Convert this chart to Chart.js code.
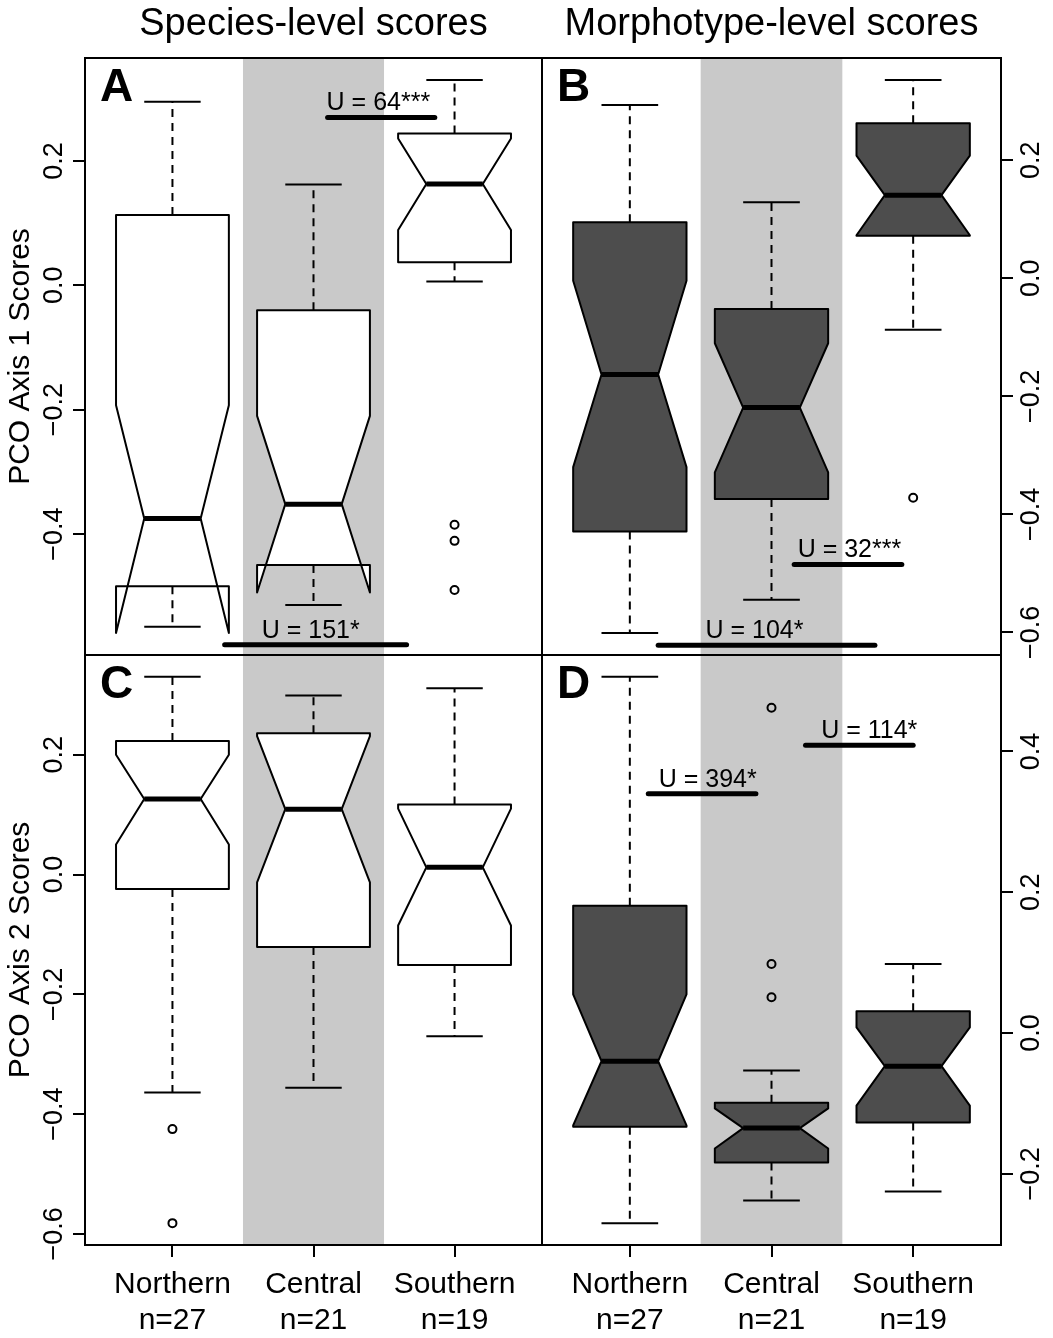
<!DOCTYPE html>
<html lang="en">
<head>
<meta charset="UTF-8">
<title>PCO scores by region</title>
<script src="https://cdn.jsdelivr.net/npm/chart.js@4"></script>
<style>
  body { margin: 0; background: #fff; }
  #figure { position: relative; width: 1053px; height: 1338px; background: #fff; }
  #figure canvas { position: absolute; }
</style>
</head>
<body>
<div id="figure">
  <canvas id="panelA" width="552" height="665" style="left:0;top:0;width:552px;height:665px"></canvas>
  <canvas id="panelB" width="521" height="665" style="left:532px;top:0;width:521px;height:665px"></canvas>
  <canvas id="panelC" width="552" height="693" style="left:0;top:645px;width:552px;height:693px"></canvas>
  <canvas id="panelD" width="521" height="693" style="left:532px;top:645px;width:521px;height:693px"></canvas>
</div>
<script>
const groups = ['Northern', 'Central', 'Southern'];
const groupN = [27, 21, 19];

// one row per group: [lower whisker, Q1, notch low, median, notch high, Q3, upper whisker]
const pc1Species = [
  [-0.549, -0.484, -0.559, -0.375, -0.193, 0.113, 0.295],
  [-0.514, -0.450, -0.494, -0.352, -0.210, -0.040, 0.162],
  [0.006, 0.037, 0.089, 0.163, 0.236, 0.244, 0.330]
];
const pc1SpeciesOut = [[], [], [-0.385, -0.411, -0.490]];

const pc1Morpho = [
  [-0.601, -0.429, -0.320, -0.163, -0.004, 0.095, 0.294],
  [-0.545, -0.374, -0.329, -0.219, -0.110, -0.052, 0.129],
  [-0.087, 0.072, 0.073, 0.141, 0.208, 0.263, 0.336]
];
const pc1MorphoOut = [[], [], [-0.372]];

const pc2Species = [
  [-0.364, -0.024, 0.050, 0.126, 0.200, 0.223, 0.330],
  [-0.356, -0.121, -0.013, 0.109, 0.231, 0.236, 0.299],
  [-0.270, -0.151, -0.085, 0.012, 0.110, 0.117, 0.311]
];
const pc2SpeciesOut = [[-0.425, -0.582], [], []];

const pc2Morpho = [
  [-0.270, -0.133, -0.131, -0.040, 0.055, 0.181, 0.506],
  [-0.238, -0.184, -0.164, -0.135, -0.107, -0.099, -0.053],
  [-0.225, -0.127, -0.103, -0.047, 0.008, 0.031, 0.098]
];
const pc2MorphoOut = [[], [0.462, 0.098, 0.051], []];

// axis ticks
const ticksA = [0.2, 0.0, -0.2, -0.4];
const ticksB = [0.2, 0.0, -0.2, -0.4, -0.6];
const ticksC = [0.2, 0.0, -0.2, -0.4, -0.6];
const ticksD = [0.4, 0.2, 0.0, -0.2];

// Mann-Whitney test bars
const testsA = ['U = 64***', 'U = 151*'];
const testFromA = [2.10, 1.37];
const testToA = [2.86, 2.66];
const testYA = [0.270, -0.578];
const testTextXA = [2.46, 1.98];

const testsB = ['U = 32***', 'U = 104*'];
const testFromB = [2.16, 1.20];
const testToB = [2.92, 2.73];
const testYB = [-0.485, -0.622];
const testTextXB = [2.55, 1.88];

const testsD = ['U = 394*', 'U = 114*'];
const testFromD = [1.13, 2.24];
const testToD = [1.89, 3.00];
const testYD = [0.340, 0.409];
const testTextXD = [1.55, 2.69];

Chart.defaults.font.family = "'Liberation Sans', Arial, Helvetica, sans-serif";
Chart.defaults.color = '#000';

// same as R boxplot: data range plus 4% each side
function yRange(stats, outliers) {
  const vals = stats.flat().concat(outliers.flat());
  const lo = Math.min(...vals), hi = Math.max(...vals);
  const pad = (hi - lo) * 0.04;
  return [lo - pad, hi + pad];
}

function tickText(v) {
  const s = Math.abs(v) < 1e-9 ? '0.0' : v.toFixed(1);
  return s.replace('-', '\u2212');
}

function boxPlugin(cfg) {
  return {
    id: 'notchedBoxes',
    beforeDatasetsDraw(chart) {
      const { ctx, chartArea: a, scales: { x, y } } = chart;
      ctx.save();
      // shaded Central column
      const s0 = x.getPixelForValue(1.5), s1 = x.getPixelForValue(2.5);
      ctx.fillStyle = '#c9c9c9';
      ctx.fillRect(s0, a.top, s1 - s0, a.bottom - a.top);

      const hw = 0.4;
      cfg.stats.forEach((s, i) => {
        const c = i + 1;
        const [wLo, q1, nLo, med, nHi, q3, wHi] = s;
        const px = d => x.getPixelForValue(c + d);
        const py = v => y.getPixelForValue(v);

        // notched box (R bxp polygon order)
        const xs = [-1, 1, 1, 0.5, 1, 1, -1, -1, -0.5, -1];
        const ys = [q1, q1, nLo, med, nHi, q3, q3, nHi, med, nLo];
        ctx.beginPath();
        xs.forEach((k, j) => {
          const X = px(k * hw), Y = py(ys[j]);
          if (j === 0) ctx.moveTo(X, Y); else ctx.lineTo(X, Y);
        });
        ctx.closePath();
        ctx.fillStyle = cfg.fill;
        ctx.fill();
        ctx.strokeStyle = '#000';
        ctx.lineWidth = 2;
        ctx.lineJoin = 'round';
        ctx.stroke();

        // whiskers
        ctx.setLineDash([8, 6]);
        ctx.beginPath();
        ctx.moveTo(px(0), py(q1)); ctx.lineTo(px(0), py(wLo));
        ctx.moveTo(px(0), py(q3)); ctx.lineTo(px(0), py(wHi));
        ctx.stroke();
        ctx.setLineDash([]);

        // staples
        ctx.beginPath();
        ctx.moveTo(px(-hw / 2), py(wLo)); ctx.lineTo(px(hw / 2), py(wLo));
        ctx.moveTo(px(-hw / 2), py(wHi)); ctx.lineTo(px(hw / 2), py(wHi));
        ctx.stroke();

        // median
        ctx.lineWidth = 5;
        ctx.lineCap = 'butt';
        ctx.beginPath();
        ctx.moveTo(px(-hw / 2), py(med)); ctx.lineTo(px(hw / 2), py(med));
        ctx.stroke();
      });
      ctx.restore();
    },
    afterDatasetsDraw(chart) {
      const { ctx, scales: { x, y } } = chart;
      ctx.save();
      ctx.fillStyle = '#000';
      ctx.font = "25px 'Liberation Sans', Arial, sans-serif";
      ctx.textAlign = 'center';
      ctx.textBaseline = 'alphabetic';
      cfg.tests.forEach((t, i) => {
        ctx.fillText(t, x.getPixelForValue(cfg.testTextX[i]), y.getPixelForValue(cfg.testY[i]) - 7);
      });
      ctx.restore();
    },
    afterDraw(chart) {
      const { ctx, chartArea: a } = chart;
      ctx.save();
      ctx.strokeStyle = '#000';
      ctx.lineWidth = 2;
      ctx.strokeRect(a.left, a.top, a.right - a.left, a.bottom - a.top);
      ctx.fillStyle = '#000';
      ctx.font = "bold 46px 'Liberation Sans', Arial, sans-serif";
      ctx.textAlign = 'left';
      ctx.textBaseline = 'alphabetic';
      ctx.fillText(cfg.letter, a.left + 15, a.top + 43);
      ctx.restore();
    }
  };
}

function drawPanel(canvasId, cfg) {
  const [yMin, yMax] = yRange(cfg.stats, cfg.outliers);
  const onLeft = cfg.side === 'left';

  const outPoints = [];
  cfg.outliers.forEach((vals, i) => vals.forEach(v => outPoints.push({ x: i + 1, y: v })));

  const testLines = cfg.tests.map((t, i) => ({
    data: [{ x: cfg.testFrom[i], y: cfg.testY[i] }, { x: cfg.testTo[i], y: cfg.testY[i] }],
    showLine: true,
    borderColor: '#000',
    borderWidth: 5,
    borderCapStyle: 'round',
    pointRadius: 0
  }));

  const tickGrid = { drawOnChartArea: false, drawTicks: true, tickLength: 12, color: '#000', lineWidth: 2 };

  return new Chart(document.getElementById(canvasId), {
    type: 'scatter',
    data: {
      datasets: [{
        data: outPoints,
        pointStyle: 'circle',
        pointRadius: 4,
        pointBorderWidth: 2,
        borderColor: '#000',
        backgroundColor: 'rgba(0,0,0,0)'
      }].concat(testLines)
    },
    options: {
      responsive: false,
      devicePixelRatio: 1,
      animation: false,
      layout: { padding: cfg.padding },
      plugins: {
        legend: { display: false },
        tooltip: { enabled: false },
        title: {
          display: !!cfg.title,
          text: cfg.title || '',
          color: '#000',
          font: { size: 38, weight: 'normal' },
          padding: { top: 2, bottom: 10.4 },
          fullSize: false
        }
      },
      scales: {
        x: {
          type: 'linear',
          min: 0.38,
          max: 3.62,
          display: cfg.showX,
          afterBuildTicks: s => { s.ticks = groups.map((g, i) => ({ value: i + 1 })); },
          afterFit: s => { s.height = cfg.showX ? 93 : 0; },
          ticks: {
            autoSkip: false,
            maxRotation: 0,
            padding: 10,
            color: '#000',
            font: { size: 30 },
            callback: (v, i) => [groups[i], 'n=' + groupN[i]]
          },
          grid: tickGrid,
          border: { display: false }
        },
        y: {
          type: 'linear',
          position: cfg.side,
          min: yMin,
          max: yMax,
          afterBuildTicks: s => { s.ticks = cfg.ticks.map(v => ({ value: v })); },
          afterFit: s => { s.width = onLeft ? 85 : 52; },
          ticks: {
            autoSkip: false,
            minRotation: 90,
            maxRotation: 90,
            crossAlign: 'center',
            padding: -8,
            color: '#000',
            font: { size: 27 },
            callback: v => tickText(v)
          },
          grid: tickGrid,
          border: { display: false },
          title: {
            display: !!cfg.axisTitle,
            text: cfg.axisTitle || '',
            color: '#000',
            font: { size: 30 },
            padding: { top: 3, bottom: 0 }
          }
        }
      }
    },
    plugins: [boxPlugin(cfg)]
  });
}

drawPanel('panelA', {
  stats: pc1Species, outliers: pc1SpeciesOut, ticks: ticksA,
  tests: testsA, testFrom: testFromA, testTo: testToA, testY: testYA, testTextX: testTextXA,
  side: 'left', fill: '#ffffff', letter: 'A', showX: false,
  title: 'Species-level scores', axisTitle: 'PCO Axis 1 Scores',
  padding: { top: 0, right: 10, bottom: 10, left: 0 }
});

drawPanel('panelB', {
  stats: pc1Morpho, outliers: pc1MorphoOut, ticks: ticksB,
  tests: testsB, testFrom: testFromB, testTo: testToB, testY: testYB, testTextX: testTextXB,
  side: 'right', fill: '#4d4d4d', letter: 'B', showX: false,
  title: 'Morphotype-level scores',
  padding: { top: 0, right: 0, bottom: 10, left: 10 }
});

drawPanel('panelC', {
  stats: pc2Species, outliers: pc2SpeciesOut, ticks: ticksC,
  tests: [], testFrom: [], testTo: [], testY: [], testTextX: [],
  side: 'left', fill: '#ffffff', letter: 'C', showX: true,
  axisTitle: 'PCO Axis 2 Scores',
  padding: { top: 10, right: 10, bottom: 0, left: 0 }
});

drawPanel('panelD', {
  stats: pc2Morpho, outliers: pc2MorphoOut, ticks: ticksD,
  tests: testsD, testFrom: testFromD, testTo: testToD, testY: testYD, testTextX: testTextXD,
  side: 'right', fill: '#4d4d4d', letter: 'D', showX: true,
  padding: { top: 10, right: 0, bottom: 0, left: 10 }
});
</script>
</body>
</html>
